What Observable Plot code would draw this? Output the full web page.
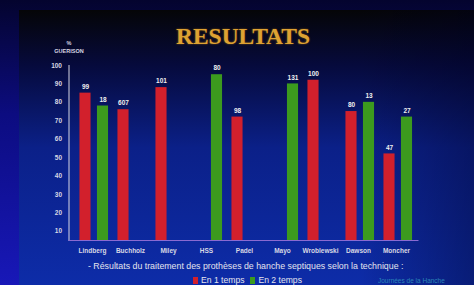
<!DOCTYPE html>
<html><head><meta charset="utf-8">
<script src="https://cdn.jsdelivr.net/npm/d3@7"></script>
<script src="https://cdn.jsdelivr.net/npm/@observablehq/plot@0.6"></script>
<style>
html,body{margin:0;padding:0;background:#05052a;}
#wrap{position:relative;width:474px;height:285px;overflow:hidden;background:linear-gradient(to bottom,#04042e 0%,#0c0c80 40%,#1818b8 100%);font-family:"Liberation Sans",Arial,sans-serif;}
#panel{position:absolute;left:19px;top:10px;right:0;bottom:0;background:linear-gradient(to bottom,#050507 0%,#060a3c 20%,#0b2088 50%,#0d2ca8 100%);}
#shade{position:absolute;left:19px;top:10px;right:0;bottom:0;background:linear-gradient(to right,rgba(0,0,0,0) 75%,rgba(0,0,30,0.35) 100%);}
#title{position:absolute;left:0;width:486px;top:24px;text-align:center;font-family:"Liberation Serif",serif;font-weight:bold;font-size:23.5px;line-height:25px;color:#dea233;text-shadow:0 0 2px #8a5a10;}
#ylab{position:absolute;left:54px;top:39px;width:30px;text-align:center;color:#d8d8e4;font-weight:bold;font-size:5.5px;line-height:8px;}
#chart{position:absolute;left:0;top:40px;}
#caption{position:absolute;left:88px;top:261px;color:#e4e4ee;font-size:8.8px;line-height:10px;white-space:nowrap;}
#legend{position:absolute;left:193px;top:275px;color:#e4e4ee;font-size:8.6px;line-height:10px;white-space:nowrap;display:flex;align-items:center;}
#legend .sw{display:inline-block;width:5px;height:7px;margin-right:3px;}
#credit{position:absolute;left:378px;top:276px;color:#2a86b8;font-size:6.5px;line-height:9px;white-space:nowrap;}
</style></head>
<body>
<div id="wrap">
  <div id="panel"></div>
  <div id="shade"></div>
  <div id="title">RESULTATS</div>
  <div id="ylab">%<br>GUERISON</div>
  <div id="chart"></div>
  <div id="caption"></div>
  <div id="legend"></div>
  <div id="credit">Journées de la Hanche</div>
</div>
<script>
const categories = ["Lindberg","Buchholz","Miley","HSS","Padel","Mayo","Wroblewski","Dawson","Moncher"];
const oneStageValues = [85, 76, 88, null, 72, null, 92, 75, 52];
const oneStageCounts = ["99","607","101",null,"98",null,"100","80","47"];
const twoStageValues = [78, null, null, 95, null, 90, null, 80, 72];
const twoStageCounts = ["18",null,null,"80",null,"131",null,"13","27"];
const yTicks = [10,20,30,40,50,60,70,80,90,100];
const seriesNames = ["En 1 temps","En 2 temps"];
const captionText = "- Résultats du traitement des prothèses de hanche septiques selon la technique :";

const RED = "#d2202c", GREEN = "#3c9a1e", AXIS = "#8a6ad2";

const one = categories.map((c,i)=>({cat:c, value:oneStageValues[i], n:oneStageCounts[i]})).filter(d=>d.value!=null);
const two = categories.map((c,i)=>({cat:c, value:twoStageValues[i], n:twoStageCounts[i]})).filter(d=>d.value!=null);

const plot = Plot.plot({
  width: 474, height: 220,
  marginLeft: 68.5, marginRight: 55.5, marginTop: 25, marginBottom: 20,
  style: {background: "transparent", color: "#d8d8e4", fontFamily: "'Liberation Sans', Arial, sans-serif", fontSize: "6.5px", fontWeight: "bold"},
  x: {domain: categories, padding: 0, tickSize: 0, tickPadding: 8, label: null},
  y: {domain: [5, 100], clamp: true, ticks: yTicks, tickSize: 0, tickPadding: 7, line: true, label: null},
  marks: [
    Plot.barY(one, {x: "cat", y: "value", fill: RED, insetLeft: 6.45, insetRight: 20.45}),
    Plot.barY(two, {x: "cat", y: "value", fill: GREEN, insetLeft: 23.95, insetRight: 2.95}),
    Plot.text(one, {x: "cat", y: "value", text: "n", dx: -7, dy: -6.5, fill: "#f0f0f0"}),
    Plot.text(two, {x: "cat", y: "value", text: "n", dx: 10.5, dy: -6.5, fill: "#f0f0f0"}),
    Plot.ruleY([5], {stroke: AXIS, strokeWidth: 1.2})
  ]
});
document.getElementById("chart").appendChild(plot);
d3.select(plot).selectAll('[aria-label^="y-axis"] path, [aria-label^="y-axis"] line').attr("stroke", AXIS).style("stroke", AXIS).attr("stroke-width", 1.2);

document.getElementById("caption").textContent = captionText;
const lg = document.getElementById("legend");
[RED, GREEN].forEach((col, i) => {
  const sw = document.createElement("span"); sw.className = "sw"; sw.style.background = col;
  const tx = document.createElement("span"); tx.textContent = seriesNames[i]; tx.style.marginRight = i === 0 ? "6px" : "0";
  lg.appendChild(sw); lg.appendChild(tx);
});
</script>
</body></html>
